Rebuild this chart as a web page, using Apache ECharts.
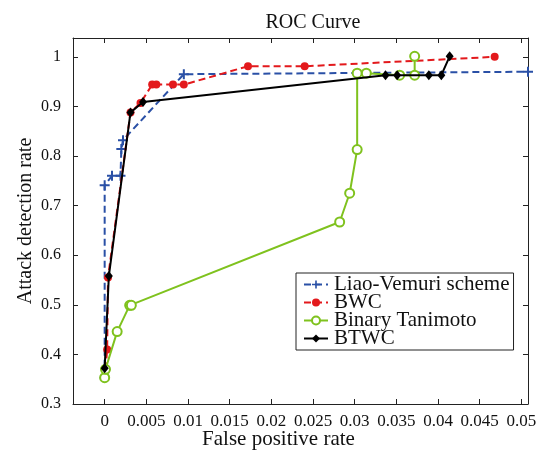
<!DOCTYPE html>
<html>
<head>
<meta charset="utf-8">
<script src="https://cdn.jsdelivr.net/npm/echarts@6/dist/echarts.min.js"></script>
<style>html,body{margin:0;padding:0;background:#fff}#c{width:544px;height:454px}</style>
</head>
<body>
<div id="c"></div>
<script>
// Tick labels
var xTicks = [0, 0.005, 0.01, 0.015, 0.02, 0.025, 0.03, 0.035, 0.04, 0.045, 0.05];
var yTicks = [0.3, 0.4, 0.5, 0.6, 0.7, 0.8, 0.9, 1];

// Series data [false positive rate, attack detection rate]
var liaoVemuri = [[0, 0.353], [0, 0.741], [0.00088, 0.760], [0.0019, 0.760], [0.0020, 0.814], [0.0022, 0.832], [0.0095, 0.965], [0.0508, 0.970]];
var bwc = [[0.0001, 0.370], [0.0003, 0.410], [0.0004, 0.555], [0.0031, 0.888], [0.0043, 0.907], [0.0057, 0.944], [0.0062, 0.944], [0.0082, 0.944], [0.0095, 0.944], [0.0172, 0.981], [0.0240, 0.981], [0.0468, 1.000]];
var binaryTanimoto = [[0, 0.353], [0.0001, 0.370], [0.0015, 0.446], [0.0030, 0.499], [0.0032, 0.499], [0.0282, 0.667], [0.0294, 0.725], [0.0303, 0.813], [0.0303, 0.967], [0.0314, 0.967], [0.0354, 0.963], [0.0372, 0.963], [0.0372, 1.001]];
var btwc = [[0, 0.372], [0.0005, 0.558], [0.0031, 0.888], [0.0046, 0.909], [0.0337, 0.963], [0.0351, 0.963], [0.0389, 0.963], [0.0404, 0.963], [0.0414, 1.001]];

var FONT = 'Liberation Serif';
var plus = 'path://M4,0 H6 V4 H10 V6 H6 V10 H4 V6 H0 V4 H4 Z';
var fmt = function (v) { return String(+(+v).toFixed(4)); };

var chart = echarts.init(document.getElementById('c'), null, {renderer: 'canvas'});
var axisCommon = {
  type: 'value', min: -0.0038, max: 0.0508,
  axisLine: {show: true, onZero: false, lineStyle: {color: '#222', width: 1}},
  splitLine: {show: false}
};
var yCommon = {
  type: 'value', min: 0.3, max: 1.038,
  axisLine: {show: true, onZero: false, lineStyle: {color: '#222', width: 1}},
  splitLine: {show: false}
};
chart.setOption({
  animation: false,
  backgroundColor: '#fff',
  title: {text: 'ROC Curve', left: 308, textAlign: 'center', top: 8,
    textStyle: {fontFamily: FONT, fontSize: 20, fontWeight: 'normal', color: '#111'}},
  grid: {left: 73, right: 16, top: 38, bottom: 50, containLabel: false, outerBoundsMode: 'none'},
  legend: {
    orient: 'vertical', left: 296, top: 273,
    backgroundColor: '#fff', borderColor: '#222', borderWidth: 1, borderRadius: 0,
    padding: [1, 4, 1, 7], itemGap: -3, itemWidth: 24, itemHeight: 10,
    textStyle: {fontFamily: FONT, fontSize: 21, color: '#111', lineHeight: 17.7, padding: [0, 0, 0, 1]},
    data: ['Liao-Vemuri scheme', 'BWC', 'Binary Tanimoto', 'BTWC']
  },
  xAxis: [
    Object.assign({}, axisCommon, {
      position: 'bottom',
      name: 'False positive rate', nameLocation: 'middle', nameGap: 25, nameMoveOverlap: false,
      nameTextStyle: {fontFamily: FONT, fontSize: 21, color: '#111', padding: [0, 44, 0, 0]},
      axisTick: {show: true, inside: true, length: 5, customValues: xTicks, lineStyle: {color: '#222'}},
      axisLabel: {show: true, margin: 9, customValues: xTicks, formatter: fmt,
        fontFamily: FONT, fontSize: 17, color: '#111'}
    }),
    Object.assign({}, axisCommon, {
      position: 'top',
      axisTick: {show: true, inside: true, length: 5, customValues: xTicks, lineStyle: {color: '#222'}},
      axisLabel: {show: false}
    })
  ],
  yAxis: [
    Object.assign({}, yCommon, {
      position: 'left',
      name: 'Attack detection rate', nameLocation: 'middle', nameGap: 37, nameMoveOverlap: false,
      nameTextStyle: {fontFamily: FONT, fontSize: 20, color: '#111'},
      axisTick: {show: true, inside: true, length: 5, customValues: yTicks, lineStyle: {color: '#222'}},
      axisLabel: {show: true, margin: 12, customValues: yTicks, formatter: fmt,
        fontFamily: FONT, fontSize: 16, color: '#111'}
    }),
    Object.assign({}, yCommon, {
      position: 'right',
      axisTick: {show: true, inside: true, length: 5, customValues: yTicks, lineStyle: {color: '#222'}},
      axisLabel: {show: false}
    })
  ],
  series: [
    {name: 'Liao-Vemuri scheme', type: 'line', data: liaoVemuri, xAxisIndex: 0, yAxisIndex: 0,
      color: '#2a50a6', symbol: plus, symbolSize: 10, showAllSymbol: true,
      lineStyle: {color: '#2a50a6', width: 2, type: [7, 4]},
      itemStyle: {color: '#2a50a6'}, z: 2},
    {name: 'BWC', type: 'line', data: bwc, xAxisIndex: 0, yAxisIndex: 0,
      color: '#e3191c', symbol: 'circle', symbolSize: 8, showAllSymbol: true,
      lineStyle: {color: '#e3191c', width: 2, type: [7, 4]},
      itemStyle: {color: '#e3191c'}, z: 3},
    {name: 'Binary Tanimoto', type: 'line', data: binaryTanimoto, xAxisIndex: 0, yAxisIndex: 0,
      color: '#7fc21e', symbol: 'emptyCircle', symbolSize: 9, showAllSymbol: true,
      lineStyle: {color: '#7fc21e', width: 2},
      itemStyle: {color: '#7fc21e', borderColor: '#7fc21e', borderWidth: 2}, z: 4},
    {name: 'BTWC', type: 'line', data: btwc, xAxisIndex: 0, yAxisIndex: 0,
      color: '#000', symbol: 'diamond', symbolSize: [8, 10], showAllSymbol: true,
      lineStyle: {color: '#000', width: 2},
      itemStyle: {color: '#000'}, z: 5}
  ]
});
</script>
</body>
</html>
